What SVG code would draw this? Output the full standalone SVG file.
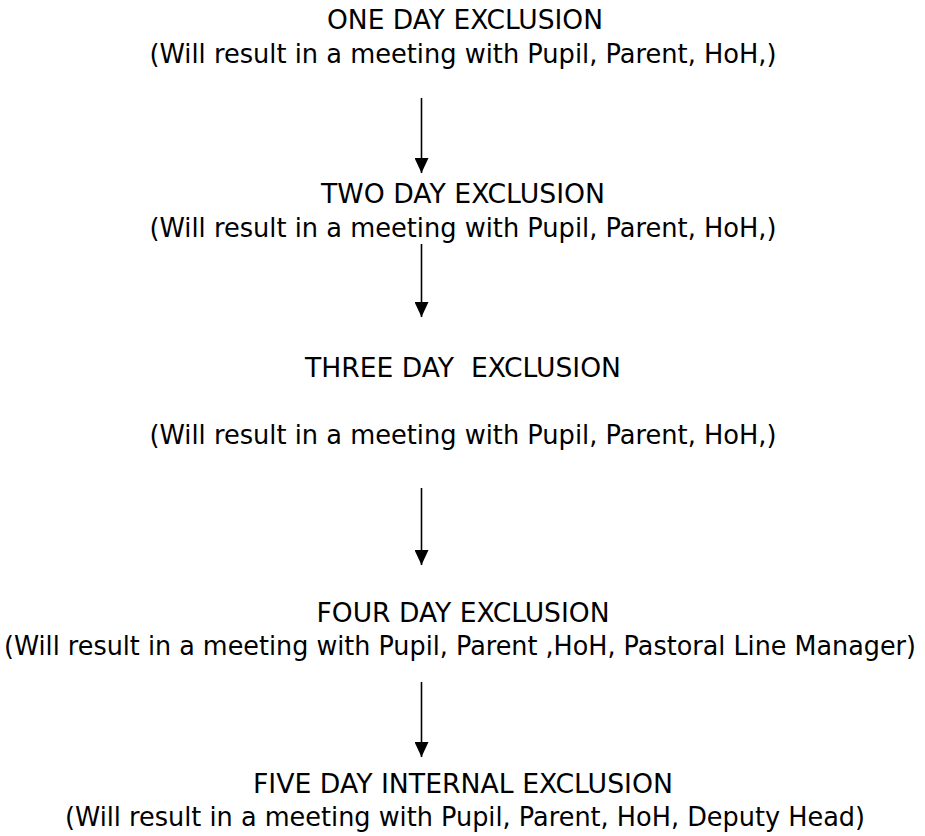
<svg xmlns="http://www.w3.org/2000/svg" width="925" height="836" viewBox="0 0 925 836">
<style>
text{font-family:"DejaVu Sans","Liberation Sans",sans-serif;font-size:27px;fill:#000;text-anchor:middle}
.c{stroke:#000;stroke-width:1.6;fill:none}
</style>
<defs>
<marker id="ah" markerWidth="15" markerHeight="14" refX="15" refY="7" orient="auto" markerUnits="userSpaceOnUse">
<path d="M0,0 L15,7 L0,14 Z" fill="#000"/>
</marker>
</defs>
<rect width="925" height="836" fill="#fff"/>
<g id="connectors">
<line class="c" x1="421.5" y1="98" x2="421.5" y2="173" marker-end="url(#ah)"/>
<line class="c" x1="421.5" y1="244" x2="421.5" y2="317" marker-end="url(#ah)"/>
<line class="c" x1="421.5" y1="488" x2="421.5" y2="565" marker-end="url(#ah)"/>
<line class="c" x1="421.5" y1="682" x2="421.5" y2="757" marker-end="url(#ah)"/>
</g>
<g id="n1">
<text x="465" y="29" textLength="276" lengthAdjust="spacingAndGlyphs">ONE DAY EXCLUSION</text>
<text x="463" y="63" textLength="627" lengthAdjust="spacingAndGlyphs">(Will result in a meeting with Pupil, Parent, HoH,)</text>
</g>
<g id="n2">
<text x="463" y="203" textLength="284" lengthAdjust="spacingAndGlyphs">TWO DAY EXCLUSION</text>
<text x="463" y="237" textLength="627" lengthAdjust="spacingAndGlyphs">(Will result in a meeting with Pupil, Parent, HoH,)</text>
</g>
<g id="n3">
<text x="463" y="377" textLength="316" lengthAdjust="spacingAndGlyphs" xml:space="preserve">THREE DAY  EXCLUSION</text>
<text x="463" y="444" textLength="627" lengthAdjust="spacingAndGlyphs">(Will result in a meeting with Pupil, Parent, HoH,)</text>
</g>
<g id="n4">
<text x="463" y="622" textLength="293" lengthAdjust="spacingAndGlyphs">FOUR DAY EXCLUSION</text>
<text transform="translate(460,655) scale(0.8,1)" x="0" y="0" textLength="1140" lengthAdjust="spacingAndGlyphs">(Will result in a meeting with Pupil, Parent ,HoH, Pastoral Line Manager)</text>
</g>
<g id="n5">
<text x="463" y="793" textLength="420" lengthAdjust="spacingAndGlyphs">FIVE DAY INTERNAL EXCLUSION</text>
<text x="465" y="826" textLength="800" lengthAdjust="spacingAndGlyphs">(Will result in a meeting with Pupil, Parent, HoH, Deputy Head)</text>
</g>
</svg>
